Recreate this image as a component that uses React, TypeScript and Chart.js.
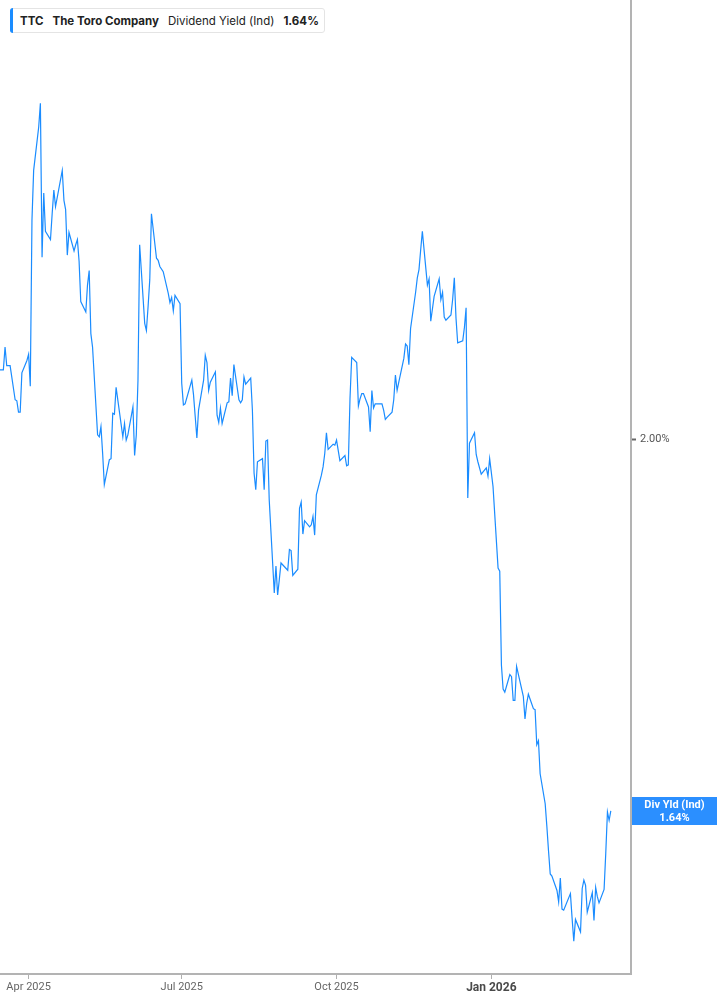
import React, { useEffect, useRef } from 'react';
import { Chart, registerables } from 'chart.js';

Chart.register(...registerables);

const TICKER = 'TTC';
const COMPANY = 'The Toro Company';
const METRIC = 'Dividend Yield (Ind)';
const METRIC_SHORT = 'Div Yld (Ind)';

// last trading day shown; dates are built backwards over trading days
const LAST_DATE = '2026-03-13';
const HOLIDAYS = [
  '2025-04-18', '2025-05-26', '2025-06-19', '2025-07-04', '2025-09-01',
  '2025-11-27', '2025-12-25', '2026-01-01', '2026-01-19', '2026-02-16',
];

const AXIS_START = '2025-03-15';
const AXIS_END = '2026-03-25';
const X_TICK_DATES = ['2025-04-01', '2025-07-01', '2025-10-01', '2026-01-01'];
const X_TICK_LABELS = ['Apr 2025', 'Jul 2025', 'Oct 2025', 'Jan 2026'];
const Y_TICKS = [2.0];
const Y_MIN = 1.4822;
const Y_MAX = 2.4249;

// Dividend yield (%), one value per trading day
const divYield = [
  2.067, 2.067, 2.089, 2.071, 2.071, 2.071, 2.038, 2.037, 2.026, 2.026,
  2.064, 2.076, 2.082, 2.051, 2.212, 2.260, 2.302, 2.325, 2.176, 2.238,
  2.201, 2.193, 2.218, 2.241, 2.225, 2.260, 2.231, 2.222, 2.178, 2.200,
  2.182, 2.188, 2.193, 2.172, 2.133, 2.123, 2.149, 2.163, 2.102, 2.089,
  2.004, 2.002, 2.012, 1.986, 1.956, 1.980, 1.981, 2.025, 2.024, 2.050,
  2.002, 2.015, 1.999, 2.004, 2.031, 1.984, 2.004, 2.057, 2.188, 2.112,
  2.105, 2.128, 2.154, 2.218, 2.175, 2.173, 2.167, 2.162, 2.141, 2.132,
  2.137, 2.124, 2.139, 2.131, 2.054, 2.033, 2.034, 2.057, 2.043, 2.022,
  2.001, 2.028, 2.057, 2.081, 2.074, 2.047, 2.055, 2.065, 2.023, 2.016,
  2.030, 2.015, 2.035, 2.036, 2.059, 2.042, 2.072, 2.038, 2.035, 2.038,
  2.060, 2.053, 2.059, 2.028, 1.967, 1.951, 1.978, 1.981, 1.951, 1.998,
  1.999, 1.941, 1.851, 1.877, 1.849, 1.864, 1.880, 1.873, 1.893, 1.892,
  1.868, 1.874, 1.933, 1.939, 1.908, 1.921, 1.915, 1.917, 1.925, 1.907,
  1.946, 1.965, 1.973, 1.986, 2.006, 1.990, 1.995, 1.994, 1.999, 1.989,
  1.979, 1.984, 1.974, 1.975, 2.039, 2.079, 2.074, 2.032, 2.039,
  2.044, 2.044, 2.031, 2.007, 2.047, 2.030, 2.034, 2.034, 2.034, 2.028,
  2.019, 2.021, 2.026, 2.038, 2.062, 2.047, 2.055, 2.078, 2.092, 2.090,
  2.072, 2.107, 2.142, 2.156, 2.164, 2.183, 2.201, 2.149, 2.155, 2.114,
  2.138, 2.155, 2.135, 2.142, 2.118, 2.115, 2.120, 2.135, 2.156, 2.117,
  2.093, 2.095, 2.108, 2.127,
  1.943, 1.996, 2.006, 1.985, 1.978, 1.966, 1.972, 1.964, 1.981, 1.954,
  1.875, 1.872,
  1.781, 1.758, 1.755, 1.772, 1.770, 1.747, 1.747, 1.780, 1.751, 1.729,
  1.744, 1.753, 1.739, 1.738, 1.704, 1.708, 1.676, 1.647, 1.625, 1.601,
  1.579, 1.577, 1.563, 1.552, 1.575, 1.545, 1.544, 1.560, 1.536, 1.514,
  1.535, 1.523, 1.565, 1.573, 1.568, 1.542, 1.561, 1.534, 1.566, 1.557,
  1.551, 1.564, 1.599, 1.639, 1.631, 1.640,
];

const LINE_COLOR = '#1a8cff';
const BOX_COLOR = '#2b8fff';

const dayNum = (iso: string) => {
  const [y, m, d] = iso.split('-').map(Number);
  return Date.UTC(y, m - 1, d) / 86400000;
};

function tradingDays(endIso: string, count: number): number[] {
  const hol = new Set(HOLIDAYS.map(dayNum));
  const out: number[] = [];
  let d = dayNum(endIso);
  while (out.length < count) {
    const wd = new Date(d * 86400000).getUTCDay();
    if (wd !== 0 && wd !== 6 && !hol.has(d)) out.push(d);
    d -= 1;
  }
  return out.reverse();
}

const lastLabelPlugin = {
  id: 'lastLabel',
  afterDraw(chart: any) {
    const { ctx, chartArea, scales } = chart;
    const last = divYield[divYield.length - 1];
    const y = Math.round(scales.y.getPixelForValue(last));
    const x0 = chartArea.right + 1;
    const x1 = chart.width;
    ctx.save();
    ctx.fillStyle = BOX_COLOR;
    ctx.fillRect(x0, y - 14, x1 - x0, 28);
    ctx.fillStyle = '#ffffff';
    ctx.font = 'bold 11px Roboto, "DejaVu Sans", sans-serif';
    ctx.textAlign = 'center';
    ctx.textBaseline = 'middle';
    const cx = (x0 + x1) / 2;
    ctx.fillText(METRIC_SHORT, cx, y - 6);
    ctx.fillText(last.toFixed(2) + '%', cx, y + 7);
    ctx.restore();
  },
};

export default function App() {
  const canvasRef = useRef<HTMLCanvasElement | null>(null);

  useEffect(() => {
    document.body.style.margin = '0';
    const canvas = canvasRef.current;
    if (!canvas) return;
    const days = tradingDays(LAST_DATE, divYield.length);
    const points = divYield.map((v, i) => ({ x: days[i], y: v }));
    const tickDays = X_TICK_DATES.map(dayNum);

    const chart = new Chart(canvas, {
      type: 'line',
      data: {
        datasets: [
          {
            label: METRIC,
            data: points,
            borderColor: LINE_COLOR,
            borderWidth: 1.2,
            pointRadius: 0,
            tension: 0,
            fill: false,
          },
        ],
      },
      options: {
        animation: false,
        responsive: false,
        devicePixelRatio: 1,
        layout: { padding: 0 },
        plugins: { legend: { display: false }, tooltip: { enabled: false } },
        scales: {
          x: {
            type: 'linear',
            min: dayNum(AXIS_START),
            max: dayNum(AXIS_END),
            afterBuildTicks: (s: any) => {
              s.ticks = tickDays.map((v) => ({ value: v }));
            },
            afterFit: (s: any) => {
              s.height = 31;
              s.paddingLeft = 0;
              s.paddingRight = 0;
            },
            ticks: {
              autoSkip: false,
              maxRotation: 0,
              padding: 2,
              callback: (v: any) => {
                const i = tickDays.indexOf(Number(v));
                return i >= 0 ? X_TICK_LABELS[i] : '';
              },
              color: (c: any) => (c.index === 3 ? '#4a4a4a' : '#666666'),
              font: (c: any) =>
                c.index === 3
                  ? { family: 'Roboto', size: 12, weight: 'bold' }
                  : { family: 'Roboto', size: 11 },
            },
            grid: { drawOnChartArea: false, tickLength: 5, tickColor: '#b0b0b0', tickWidth: 1 },
            border: { color: '#b3b3b3', width: 2 },
          },
          y: {
            position: 'right',
            min: Y_MIN,
            max: Y_MAX,
            afterBuildTicks: (s: any) => {
              s.ticks = Y_TICKS.map((v) => ({ value: v }));
            },
            afterFit: (s: any) => {
              s.width = 86;
              s.paddingTop = 0;
              s.paddingBottom = 0;
            },
            ticks: {
              padding: 4,
              color: '#555555',
              font: { family: 'Roboto', size: 11 },
              callback: (v: any) => Number(v).toFixed(2) + '%',
            },
            grid: { drawOnChartArea: false, tickLength: 5, tickColor: '#666666', tickWidth: 2 },
            border: { color: '#b3b3b3', width: 2 },
          },
        },
      },
      plugins: [lastLabelPlugin],
    });
    return () => chart.destroy();
  }, []);

  const last = divYield[divYield.length - 1];

  return (
    <div style={{ position: 'relative', width: 717, height: 1005, background: '#fff' }}>
      <canvas ref={canvasRef} width={717} height={1005} style={{ display: 'block' }} />
      <div
        style={{
          position: 'absolute',
          left: 10,
          top: 8,
          height: 25,
          boxSizing: 'border-box',
          border: '1px solid #e4e4e4',
          borderRadius: 3,
          background: '#fff',
          display: 'flex',
          alignItems: 'center',
          paddingLeft: 9,
          paddingRight: 5,
          fontFamily: 'Inter, Roboto, sans-serif',
          fontSize: 11.5,
          color: '#222',
          whiteSpace: 'nowrap',
        }}
      >
        <div
          style={{
            position: 'absolute',
            left: -1,
            top: -1,
            bottom: -1,
            width: 3,
            background: LINE_COLOR,
            borderRadius: '3px 0 0 3px',
          }}
        />
        <span style={{ fontWeight: 700 }}>{TICKER}</span>
        <span style={{ fontWeight: 700, marginLeft: 9 }}>{COMPANY}</span>
        <span style={{ marginLeft: 9 }}>{METRIC}</span>
        <span style={{ fontWeight: 700, marginLeft: 9 }}>{last.toFixed(2)}%</span>
      </div>
    </div>
  );
}
